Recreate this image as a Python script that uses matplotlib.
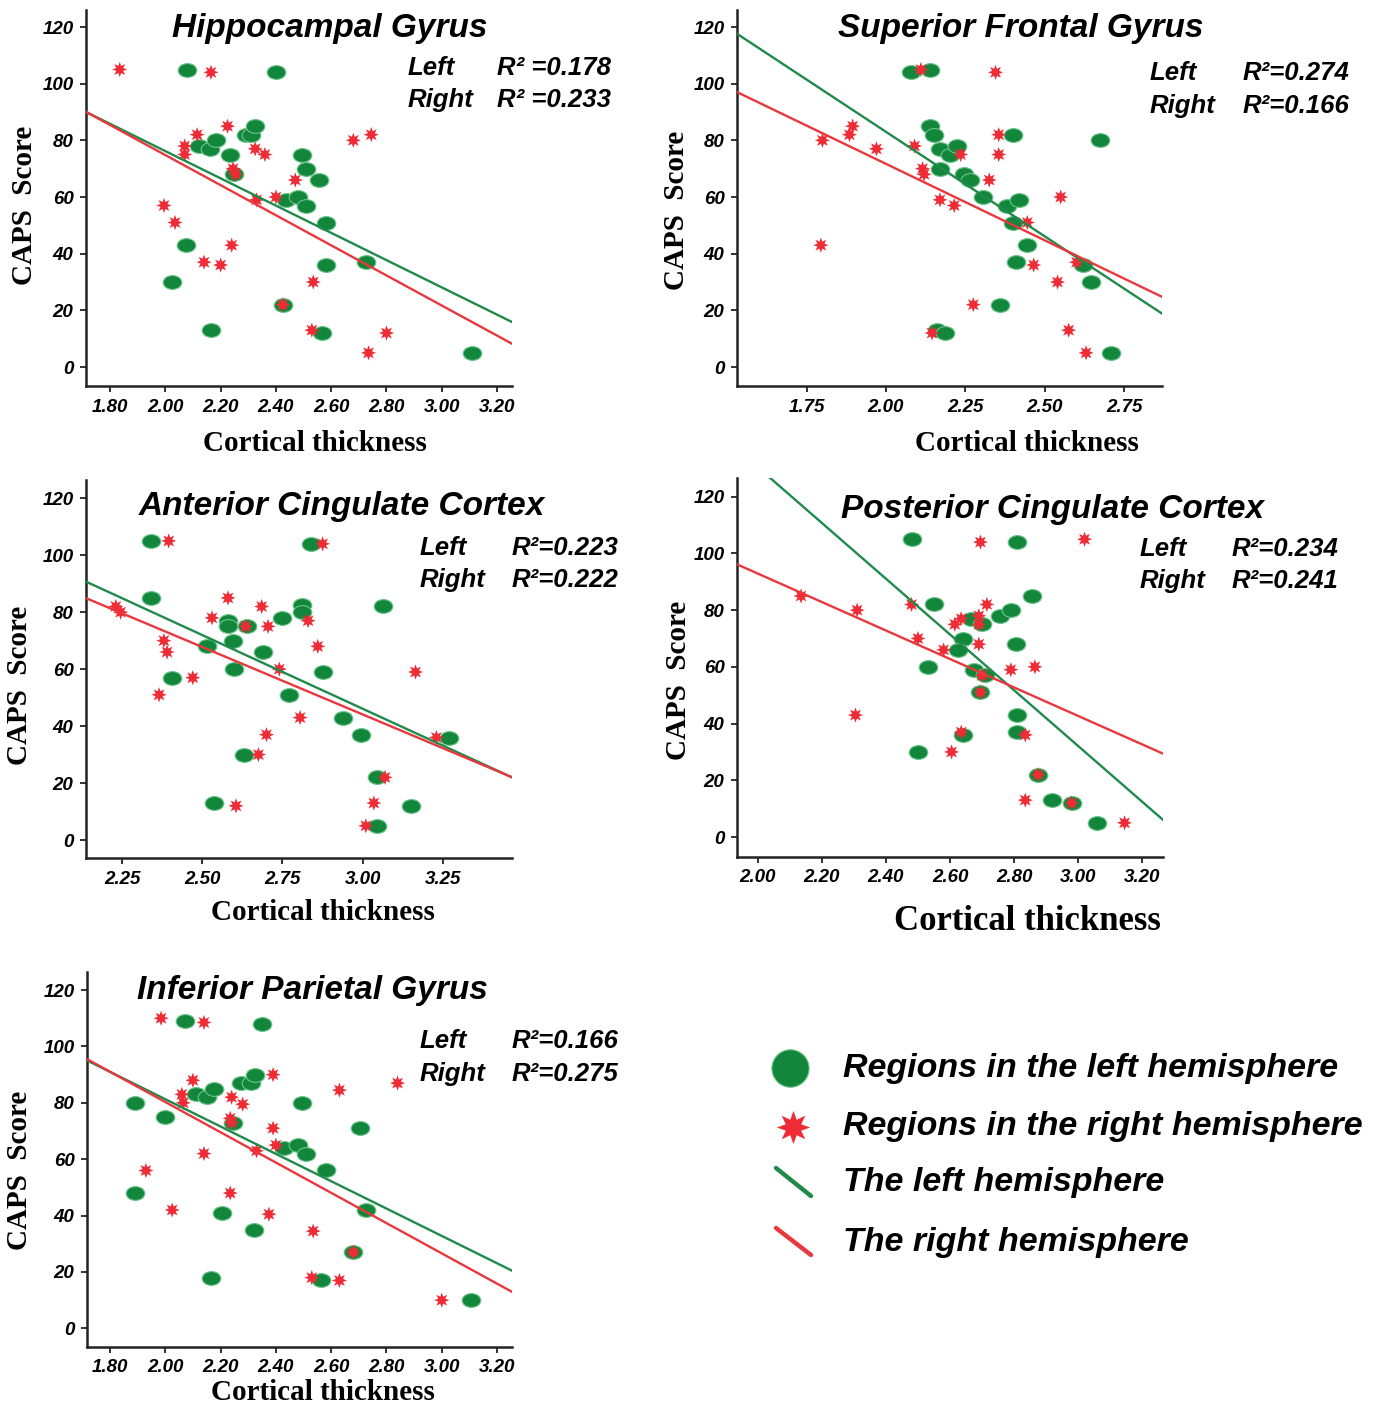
import matplotlib
matplotlib.use("Agg")
import matplotlib.pyplot as plt
from matplotlib.path import Path
from matplotlib.transforms import Affine2D
from matplotlib.lines import Line2D
import numpy as np

W, H = 1384, 1408

# ---------------- data ----------------
# Hippocampal Gyrus
hip_left_x = [2.08, 2.40, 2.12, 2.16, 2.185, 2.235, 2.29, 2.31, 2.325, 2.25, 2.495, 2.51, 2.555,
              2.435, 2.48, 2.51, 2.58, 2.075, 2.58, 2.725, 2.025, 2.425, 2.165, 2.565, 3.11]
hip_left_y = [105, 104, 78, 77, 80, 75, 82, 82, 85, 68, 75, 70, 66,
              59, 60, 57, 51, 43, 36, 37, 30, 22, 13, 12, 5]
hip_right_x = [1.835, 2.165, 2.115, 2.225, 2.07, 2.07, 2.325, 2.36, 2.245, 2.255, 2.47, 2.40, 2.33,
               2.68, 2.745, 1.995, 2.035, 2.24, 2.14, 2.20, 2.535, 2.425, 2.53, 2.80, 2.735]
hip_right_y = [105, 104, 82, 85, 78, 75, 77, 75, 70, 68, 66, 60, 59,
               80, 82, 57, 51, 43, 37, 36, 30, 22, 13, 12, 5]

# Superior Frontal Gyrus
sfg_left_x = [2.08, 2.14, 2.14, 2.15, 2.40, 2.675, 2.17, 2.20, 2.225, 2.17, 2.245, 2.265, 2.305,
              2.38, 2.42, 2.40, 2.445, 2.41, 2.62, 2.645, 2.36, 2.16, 2.185, 2.71]
sfg_left_y = [104, 105, 85, 82, 82, 80, 77, 75, 78, 70, 68, 66, 60,
              57, 59, 51, 43, 37, 36, 30, 22, 13, 12, 5]
sfg_right_x = [2.11, 2.345, 1.895, 1.885, 1.80, 1.97, 2.09, 2.235, 2.355, 2.355, 2.115, 2.12, 2.325,
               2.55, 2.17, 2.215, 2.445, 1.795, 2.465, 2.60, 2.54, 2.275, 2.145, 2.575, 2.63]
sfg_right_y = [105, 104, 85, 82, 80, 77, 78, 75, 82, 75, 70, 68, 66,
               60, 59, 57, 51, 43, 36, 37, 30, 22, 12, 13, 5]

# Anterior Cingulate Cortex
acc_left_x = [2.34, 2.84, 2.34, 3.065, 2.81, 2.81, 2.75, 2.58, 2.58, 2.64, 2.595, 2.515, 2.69,
              2.60, 2.875, 2.405, 2.77, 2.94, 2.995, 3.27, 2.63, 3.045, 2.535, 3.15, 3.045]
acc_left_y = [105, 104, 85, 82, 82.5, 80, 78, 77, 75, 75, 70, 68, 66,
              60, 59, 57, 51, 43, 37, 36, 30, 22, 13, 12, 5]
acc_right_x = [2.395, 2.875, 2.23, 2.245, 2.58, 2.53, 2.685, 2.635, 2.705, 2.83, 2.38, 2.39, 2.86,
               2.74, 2.47, 3.165, 2.365, 2.805, 2.70, 3.23, 2.675, 3.07, 3.035, 2.605, 3.01]
acc_right_y = [105, 104, 82, 80, 85, 78, 82, 75, 75, 77, 70, 66, 68,
               60, 57, 59, 51, 43, 37, 36, 30, 22, 13, 12, 5]

# Posterior Cingulate Cortex
pcc_left_x = [2.48, 2.81, 2.55, 2.855, 2.665, 2.70, 2.755, 2.79, 2.64, 2.625, 2.805, 2.53,
              2.675, 2.71, 2.695, 2.81, 2.81, 2.64, 2.50, 2.875, 2.92, 2.98, 3.06]
pcc_left_y = [105, 104, 82, 85, 77, 75, 78, 80, 70, 66, 68, 60,
              59, 57, 51, 43, 37, 36, 30, 22, 13, 12, 5]
pcc_right_x = [2.695, 3.02, 2.135, 2.31, 2.48, 2.715, 2.615, 2.635, 2.69, 2.69, 2.50, 2.69, 2.58,
               2.79, 2.865, 2.70, 2.695, 2.305, 2.635, 2.835, 2.605, 2.875, 2.835, 2.98, 3.145]
pcc_right_y = [104, 105, 85, 80, 82, 82, 75, 77, 78, 75, 70, 68, 66,
               59, 60, 57, 51, 43, 37, 36, 30, 22, 13, 12, 5]

# Inferior Parietal Gyrus
ipg_left_x = [2.07, 2.35, 1.89, 2.00, 2.11, 2.15, 2.175, 2.275, 2.31, 2.325, 2.495, 2.705, 2.245,
              2.43, 2.48, 2.51, 2.58, 1.89, 2.205, 2.725, 2.32, 2.68, 2.165, 2.565, 3.105]
ipg_left_y = [109, 108, 80, 75, 83, 82, 85, 87, 87, 90, 80, 71, 73,
              64, 65, 62, 56, 48, 41, 42, 35, 27, 18, 17, 10]
ipg_right_x = [1.985, 2.14, 2.10, 2.39, 2.63, 2.84, 2.06, 2.065, 2.24, 2.28, 2.235, 2.24, 2.39,
               2.40, 2.33, 2.14, 1.93, 2.235, 2.025, 2.375, 2.535, 2.68, 2.53, 2.63, 3.00]
ipg_right_y = [110, 108.5, 88, 90, 84.5, 87, 83, 80, 82, 79.5, 74.5, 73, 71,
               65, 63, 62, 56, 48, 42, 40.5, 34.5, 27, 18, 17, 10]

# fitted lines: (intercept, slope) for left / right hemisphere
fit_left = [(172.4, -48.1), (230.6, -73.8), (201.2, -51.7), (327.0, -98.3), (178.3, -48.5)]
fit_right = [(181.0, -53.1), (179.7, -54.0), (186.0, -47.3), (193.3, -50.2), (187.7, -53.7)]

titles = ["Hippocampal Gyrus", "Superior Frontal Gyrus", "Anterior Cingulate Cortex",
          "Posterior Cingulate Cortex", "Inferior Parietal Gyrus"]
r2_left = ["R\u00b2 =0.178", "R\u00b2=0.274", "R\u00b2=0.223", "R\u00b2=0.234", "R\u00b2=0.166"]
r2_right = ["R\u00b2 =0.233", "R\u00b2=0.166", "R\u00b2=0.222", "R\u00b2=0.241", "R\u00b2=0.275"]

xticks_a = [1.80, 2.00, 2.20, 2.40, 2.60, 2.80, 3.00, 3.20]
xticks_b = [1.75, 2.00, 2.25, 2.50, 2.75]
xticks_c = [2.25, 2.50, 2.75, 3.00, 3.25]
xticks_d = [2.00, 2.20, 2.40, 2.60, 2.80, 3.00, 3.20]
yticks = [0, 20, 40, 60, 80, 100, 120]

legend_labels = ["Regions in the left hemisphere", "Regions in the right hemisphere",
                 "The left hemisphere", "The right hemisphere"]

# ---------------- style ----------------
GREEN = '#12873c'
GREEN_EDGE = '#6cc48a'
RED = '#ee2c36'
LINE_GREEN = '#1f8a4c'
LINE_RED = '#e8383d'
SANS = 'Liberation Sans'
SERIF = 'Liberation Serif'

ellipse = Path.unit_circle().transformed(Affine2D().scale(1.0, 0.74))
star = Path.unit_regular_star(8, 0.5)

fig = plt.figure(figsize=(W / 100, H / 100), dpi=100)


def px_text(x, y, s, **kw):
    return fig.text(x / W, 1 - y / H, s, **kw)


# layout of each panel, in pixels
panels = [
    dict(box=(86, 10, 512, 386), xlim=(1.713, 3.254), ylim=(-6.7, 126.0), xt=xticks_a,
         data=(hip_left_x, hip_left_y, hip_right_x, hip_right_y),
         title=(330, 28), r2=(408, 497, 68, 100), xl=(315, 443, 21), yl=(25, 205)),
    dict(box=(737, 10, 1162, 386), xlim=(1.531, 2.869), ylim=(-6.7, 126.0), xt=xticks_b,
         data=(sfg_left_x, sfg_left_y, sfg_right_x, sfg_right_y),
         title=(1021, 28), r2=(1150, 1243, 73, 106), xl=(1027, 443, 21), yl=(676, 210)),
    dict(box=(86, 480, 512, 858), xlim=(2.137, 3.466), ylim=(-6.3, 126.4), xt=xticks_c,
         data=(acc_left_x, acc_left_y, acc_right_x, acc_right_y),
         title=(342, 507), r2=(420, 512, 548, 580), xl=(323, 913, 21), yl=(20, 685)),
    dict(box=(737, 478, 1163, 857), xlim=(1.935, 3.265), ylim=(-7.05, 126.6), xt=xticks_d,
         data=(pcc_left_x, pcc_left_y, pcc_right_x, pcc_right_y),
         title=(1053, 509), r2=(1140, 1232, 549, 581), xl=(1027, 922, 25), yl=(678, 680)),
    dict(box=(87, 972, 512, 1347), xlim=(1.717, 3.254), ylim=(-6.6, 126.4), xt=xticks_a,
         data=(ipg_left_x, ipg_left_y, ipg_right_x, ipg_right_y),
         title=(312, 991), r2=(420, 512, 1041, 1074), xl=(323, 1393, 21), yl=(20, 1170)),
]

for i, p in enumerate(panels):
    l, t, r, b = p['box']
    ax = fig.add_axes([l / W, 1 - b / H, (r - l) / W, (b - t) / H])
    lx, ly, rx, ry = p['data']

    ax.scatter(lx, ly, s=180, marker=ellipse, facecolor=GREEN, edgecolor=GREEN_EDGE,
               linewidth=0.8, zorder=3)
    ax.scatter(rx, ry, s=120, marker=star, facecolor=RED, edgecolor='none', zorder=4)

    ax.set_xlim(*p['xlim'])
    ax.set_ylim(*p['ylim'])
    xs = np.array(ax.get_xlim())
    a, k = fit_left[i]
    ax.plot(xs, a + k * xs, color=LINE_GREEN, lw=1.7, zorder=5)
    a, k = fit_right[i]
    ax.plot(xs, a + k * xs, color=LINE_RED, lw=1.7, zorder=5)
    ax.set_xlim(*p['xlim'])
    ax.set_ylim(*p['ylim'])

    ax.set_xticks(p['xt'])
    ax.set_xticklabels([f"{v:.2f}" for v in p['xt']])
    ax.set_yticks(yticks)
    ax.set_yticklabels([str(v) for v in yticks])
    for lab in ax.get_xticklabels() + ax.get_yticklabels():
        lab.set_fontfamily(SANS)
        lab.set_fontweight('bold')
        lab.set_fontstyle('italic')
        lab.set_fontsize(13.5)
    ax.tick_params(direction='out', length=4, width=1.3, pad=5, color='#222222')
    for side in ('top', 'right'):
        ax.spines[side].set_visible(False)
    for side in ('left', 'bottom'):
        ax.spines[side].set_linewidth(1.8)
        ax.spines[side].set_color('#222222')

    tx, ty = p['title']
    px_text(tx, ty, titles[i], ha='center', va='center', fontsize=24, family=SANS,
            weight='bold', style='italic')
    x1, x2, y1, y2 = p['r2']
    kw = dict(va='center', ha='left', fontsize=18.5, family=SANS, weight='bold', style='italic')
    px_text(x1, y1, "Left", **kw)
    px_text(x2, y1, r2_left[i], **kw)
    px_text(x1, y2, "Right", **kw)
    px_text(x2, y2, r2_right[i], **kw)

    xx, xy, fs = p['xl']
    px_text(xx, xy, "Cortical thickness", ha='center', va='center', fontsize=fs,
            family=SERIF, weight='bold')
    yx, yy = p['yl']
    px_text(yx, yy, "CAPS  Score", ha='center', va='center', fontsize=21,
            family=SERIF, weight='bold', rotation=90)

# ---------------- legend ----------------
lg = fig.add_axes([0, 0, 1, 1], facecolor='none')
lg.set_xlim(0, W)
lg.set_ylim(H, 0)
lg.axis('off')
lg.plot([790], [1068], marker=ellipse.transformed(Affine2D().scale(0.88, 1.2)), ms=27,
        color=GREEN, mec=GREEN_EDGE, mew=0.8, ls='none')
lg.plot([793], [1127], marker=star, ms=24, color=RED, mec='none', ls='none')
lg.add_line(Line2D([776, 811], [1168, 1196], color=LINE_GREEN, lw=3.2, solid_capstyle='round'))
lg.add_line(Line2D([776, 811], [1228, 1255], color=LINE_RED, lw=3.2, solid_capstyle='round'))
for lab, y in zip(legend_labels, [1068, 1127, 1183, 1243]):
    lg.text(843, y, lab, ha='left', va='center', fontsize=24.5, family=SANS,
            weight='bold', style='italic')

fig.savefig("out.png", dpi=100, facecolor='white')
